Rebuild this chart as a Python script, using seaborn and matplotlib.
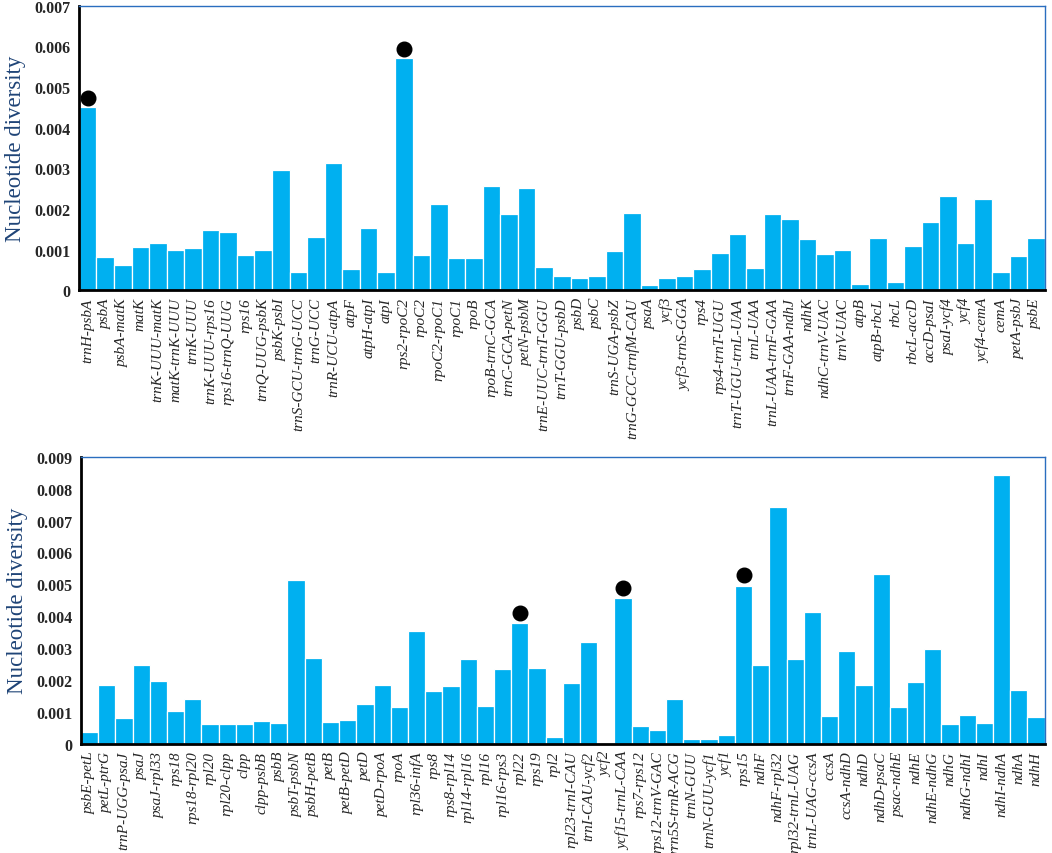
import numpy as np
import pandas as pd
import matplotlib
matplotlib.use("Agg")
import matplotlib.pyplot as plt
import seaborn as sns
from matplotlib.ticker import FixedLocator

sns.set_style("white")
plt.rcParams['font.family'] = ['Liberation Serif', 'DejaVu Serif']

# top panel (LSC region)
top_regions = ["trnH-psbA", "psbA", "psbA-matK", "matK", "trnK-UUU-matK", "matK-trnK-UUU",
               "trnK-UUU", "trnK-UUU-rps16", "rps16-trnQ-UUG", "rps16", "trnQ-UUG-psbK",
               "psbK-psbI", "trnS-GCU-trnG-UCC", "trnG-UCC", "trnR-UCU-atpA", "atpF",
               "atpH-atpI", "atpI", "rps2-rpoC2", "rpoC2", "rpoC2-rpoC1", "rpoC1", "rpoB",
               "rpoB-trnC-GCA", "trnC-GCA-petN", "petN-psbM", "trnE-UUC-trnT-GGU",
               "trnT-GGU-psbD", "psbD", "psbC", "trnS-UGA-psbZ", "trnG-GCC-trnfM-CAU",
               "psaA", "ycf3", "ycf3-trnS-GGA", "rps4", "rps4-trnT-UGU", "trnT-UGU-trnL-UAA",
               "trnL-UAA", "trnL-UAA-trnF-GAA", "trnF-GAA-ndhJ", "ndhK", "ndhC-trnV-UAC",
               "trnV-UAC", "atpB", "atpB-rbcL", "rbcL", "rbcL-accD", "accD-psaI",
               "psaI-ycf4", "ycf4", "ycf4-cemA", "cemA", "petA-psbJ", "psbE"]
top_pi = [0.00450, 0.00081, 0.00062, 0.00107, 0.00115, 0.00098, 0.00104, 0.00149, 0.00144,
          0.00087, 0.00098, 0.00295, 0.00045, 0.00130, 0.00312, 0.00051, 0.00154, 0.00045,
          0.00572, 0.00086, 0.00212, 0.00080, 0.00080, 0.00257, 0.00187, 0.00251, 0.00057,
          0.00035, 0.00029, 0.00035, 0.00096, 0.00189, 0.00012, 0.00031, 0.00035, 0.00051,
          0.00091, 0.00138, 0.00054, 0.00187, 0.00175, 0.00125, 0.00088, 0.00100, 0.00016,
          0.00128, 0.00020, 0.00108, 0.00167, 0.00231, 0.00115, 0.00224, 0.00045, 0.00085,
          0.00128]
top_hot = ["trnH-psbA", "rps2-rpoC2"]

# bottom panel (SSC/IR region)
bot_regions = ["psbE-petL", "petL-ptrG", "trnP-UGG-psaJ", "psaJ", "psaJ-rpl33", "rps18",
               "rps18-rpl20", "rpl20", "rpl20-clpp", "clpp", "clpp-psbB", "psbB", "psbT-psbN",
               "psbH-petB", "petB", "petB-petD", "petD", "petD-rpoA", "rpoA", "rpl36-infA",
               "rps8", "rps8-rpl14", "rpl14-rpl16", "rpl16", "rpl16-rps3", "rpl22", "rps19",
               "rpl2", "rpl23-trnI-CAU", "trnI-CAU-ycf2", "ycf2", "ycf15-trnL-CAA",
               "rps7-rps12", "rps12-trnV-GAC", "rrn5S-trnR-ACG", "trnN-GUU", "trnN-GUU-ycf1",
               "ycf1", "rps15", "ndhF", "ndhF-rpl32", "rpl32-trnL-UAG", "trnL-UAG-ccsA",
               "ccsA", "ccsA-ndhD", "ndhD", "ndhD-psaC", "psac-ndhE", "ndhE", "ndhE-ndhG",
               "ndhG", "ndhG-ndhI", "ndhI", "ndhI-ndhA", "ndhA", "ndhH"]
bot_pi = [0.00037, 0.00183, 0.00082, 0.00247, 0.00197, 0.00103, 0.00141, 0.00062, 0.00062,
          0.00062, 0.00072, 0.00066, 0.00513, 0.00269, 0.00069, 0.00075, 0.00125, 0.00183,
          0.00116, 0.00352, 0.00166, 0.00180, 0.00266, 0.00119, 0.00234, 0.00377, 0.00237,
          0.00022, 0.00191, 0.00320, 0.00003, 0.00456, 0.00054, 0.00044, 0.00141, 0.00015,
          0.00015, 0.00026, 0.00496, 0.00248, 0.00741, 0.00267, 0.00413, 0.00087, 0.00292,
          0.00183, 0.00531, 0.00116, 0.00194, 0.00298, 0.00062, 0.00091, 0.00066, 0.00844,
          0.00169, 0.00084]
bot_hot = ["rpl22", "ycf15-trnL-CAA", "rps15"]

bar_color = "#00b0f0"
frame_blue = "#2a6ebf"
label_color = "#1f4477"

fig = plt.figure(figsize=(10.52, 8.54), dpi=100)
ax1 = fig.add_axes([0.075, 0.659, 0.918, 0.333])
ax2 = fig.add_axes([0.077, 0.128, 0.916, 0.336])


def draw(ax, regions, pi, hot, ymax, dot_off):
    df = pd.DataFrame({"region": regions, "pi": pi})
    sns.barplot(data=df, x="region", y="pi", color=bar_color, saturation=1,
                width=1.0, edgecolor="white", linewidth=0.9, ax=ax)
    hd = df[df.region.isin(hot)]
    idx = [regions.index(r) for r in hd.region]
    ax.plot(idx, hd.pi + dot_off, "o", color="black", markersize=10.5, zorder=5)
    n = len(regions)
    ticks = np.round(np.arange(0, ymax + 1e-9, 0.001), 3)
    ax.set_yticks(ticks)
    ax.set_yticklabels(["0" if t == 0 else f"{t:.3f}" for t in ticks],
                       fontweight="bold", fontsize=11.5)
    ax.set_xlim(-0.5, n - 0.5)
    ax.set_ylim(0, ymax)
    ax.set_xticks(range(n))
    ax.set_xticklabels(regions, rotation=90, fontstyle="italic", fontsize=11)
    ax.xaxis.set_minor_locator(FixedLocator([i - 0.5 for i in range(n + 1)]))
    ax.tick_params(axis="x", which="major", length=0, pad=5)
    ax.tick_params(axis="x", which="minor", length=5, width=1.5, direction="inout",
                   color="black")
    ax.tick_params(axis="y", length=4, width=1.5, direction="out", color="black", pad=2)
    ax.set_xlabel("")
    ax.set_ylabel("Nucleotide diversity", fontsize=16.5, color=label_color, labelpad=6)
    for s in ["left", "bottom"]:
        ax.spines[s].set_color("black")
        ax.spines[s].set_linewidth(2)
    for s in ["top", "right"]:
        ax.spines[s].set_color(frame_blue)
        ax.spines[s].set_linewidth(1)
        ax.spines[s].set_visible(True)


draw(ax1, top_regions, top_pi, top_hot, 0.007, 0.00022)
draw(ax2, bot_regions, bot_pi, bot_hot, 0.009, 0.00033)

fig.savefig("out.png", dpi=100)
